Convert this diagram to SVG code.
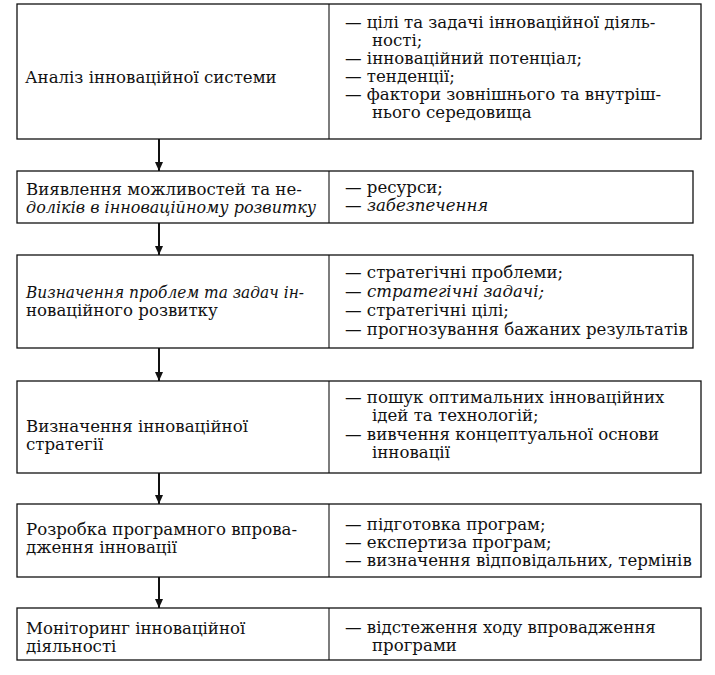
<svg xmlns="http://www.w3.org/2000/svg" width="715" height="675" viewBox="0 0 715 675">
<style>
.box{fill:#fff;stroke:#111;stroke-width:1.3}
.div{stroke:#111;stroke-width:1.1}
text{font-family:"DejaVu Serif","Liberation Serif",serif;font-size:16.6px;fill:#111}
.it{font-style:italic}
.arr{stroke:#111;stroke-width:2;fill:none}
</style>
<defs>
<marker id="ah" markerWidth="10" markerHeight="8" refX="9" refY="4" orient="auto" markerUnits="userSpaceOnUse">
<path d="M0,0 L9,4 L0,8 Z" fill="#111"/>
</marker>
</defs>
<rect width="715" height="675" fill="#fff"/>
<g id="connectors">
<line class="arr" x1="159" y1="139" x2="159" y2="171" marker-end="url(#ah)"/>
<line class="arr" x1="159" y1="223" x2="159" y2="255" marker-end="url(#ah)"/>
<line class="arr" x1="159" y1="348" x2="159" y2="381" marker-end="url(#ah)"/>
<line class="arr" x1="159" y1="473" x2="159" y2="504" marker-end="url(#ah)"/>
<line class="arr" x1="159" y1="577" x2="159" y2="608" marker-end="url(#ah)"/>
</g>
<g id="n1">
<rect class="box" x="17" y="4" width="684" height="135"/>
<line class="div" x1="329" y1="4" x2="329" y2="139"/>
<text x="25" y="83">Аналіз інноваційної системи</text>
<text x="345" y="28">— цілі та задачі інноваційної діяль-</text>
<text x="372" y="46">ності;</text>
<text x="345" y="64">— інноваційний потенціал;</text>
<text x="345" y="82">— тенденції;</text>
<text x="345" y="100">— фактори зовнішнього та внутріш-</text>
<text x="372" y="118">нього середовища</text>
</g>
<g id="n2">
<rect class="box" x="17" y="171" width="676" height="52"/>
<line class="div" x1="329" y1="171" x2="329" y2="223"/>
<text x="26" y="195">Виявлення можливостей та не-</text>
<text x="26" y="213" class="it" textLength="290" lengthAdjust="spacingAndGlyphs">доліків в інноваційному розвитку</text>
<text x="345" y="193">— ресурси;</text>
<text x="345" y="211">— <tspan class="it">забезпечення</tspan></text>
</g>
<g id="n3">
<rect class="box" x="17" y="255" width="676" height="93"/>
<line class="div" x1="329" y1="255" x2="329" y2="348"/>
<text x="26" y="298" class="it" textLength="278" lengthAdjust="spacingAndGlyphs">Визначення проблем та задач ін-</text>
<text x="26" y="316">новаційного розвитку</text>
<text x="345" y="278">— стратегічні проблеми;</text>
<text x="345" y="297">— <tspan class="it">стратегічні задачі;</tspan></text>
<text x="345" y="316">— стратегічні цілі;</text>
<text x="345" y="335">— прогнозування бажаних результатів</text>
</g>
<g id="n4">
<rect class="box" x="17" y="381" width="684" height="92"/>
<line class="div" x1="329" y1="381" x2="329" y2="473"/>
<text x="26" y="432">Визначення інноваційної</text>
<text x="26" y="450">стратегії</text>
<text x="345" y="403">— пошук оптимальних інноваційних</text>
<text x="372" y="421">ідей та технологій;</text>
<text x="345" y="440">— вивчення концептуальної основи</text>
<text x="372" y="458">інновації</text>
</g>
<g id="n5">
<rect class="box" x="17" y="504" width="684" height="73"/>
<line class="div" x1="329" y1="504" x2="329" y2="577"/>
<text x="26" y="535">Розробка програмного впрова-</text>
<text x="26" y="553">дження інновації</text>
<text x="345" y="530">— підготовка програм;</text>
<text x="345" y="548">— експертиза програм;</text>
<text x="345" y="566">— визначення відповідальних, термінів</text>
</g>
<g id="n6">
<rect class="box" x="17" y="608" width="684" height="52"/>
<line class="div" x1="329" y1="608" x2="329" y2="660"/>
<text x="26" y="634">Моніторинг інноваційної</text>
<text x="26" y="652">діяльності</text>
<text x="345" y="633">— відстеження ходу впровадження</text>
<text x="372" y="651">програми</text>
</g>
</svg>
